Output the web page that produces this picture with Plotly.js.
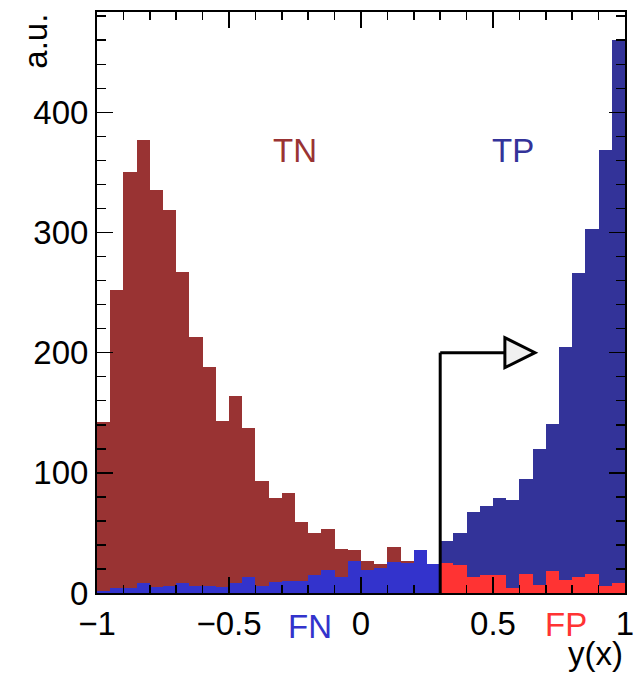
<!DOCTYPE html>
<html>
<head>
<meta charset="utf-8">
<script src="https://cdn.plot.ly/plotly-3.0.1.min.js"></script>
<style>html,body{margin:0;padding:0;background:#fff;}#chart{width:635px;height:674px;}</style>
</head>
<body>
<div id="chart"></div>
<script>
// Histogram binning
const binLow = -1.0;
const binWidth = 0.05;
const cutValue = 0.3;

// Classes below the cut (bins from -1.00 to 0.30)
const tnValues = [142, 252, 350, 377, 335, 319, 267, 213, 188, 143, 164, 137, 93, 79, 83, 59, 50, 53, 37, 36, 27, 24, 38, 27, 20, 15];
const fnValues = [2, 4, 4, 8, 5, 6, 8, 6, 6, 5, 8, 13, 6, 9, 10, 10, 15, 19, 13, 27, 19, 21, 26, 25, 36, 24];
// Classes above the cut (bins from 0.30 to 1.00)
const tpValues = [43, 50, 67, 72, 79, 77, 95, 120, 141, 205, 266, 303, 369, 460];
const fpValues = [25, 23, 13, 15, 15, 4, 16, 7, 18, 11, 13, 16, 6, 8];

const xTickVals = [-1, -0.5, 0, 0.5, 1];
const xTickText = ["\u22121", "\u22120.5", "0", "0.5", "1"];
const yTickVals = [0, 100, 200, 300, 400];
const yTickText = ["0", "100", "200", "300", "400"];

const labels = {tn: "TN", tp: "TP", fn: "FN", fp: "FP", xTitle: "y(x)", yTitle: "a.u."};

const colors = {tn: "#993333", fn: "#3333cc", tp: "#333399", fp: "#ff3333"};

function centers(startEdge, n) {
  const c = [];
  for (let i = 0; i < n; i++) c.push(startEdge + binWidth * (i + 0.5));
  return c;
}
const lowCenters = centers(binLow, tnValues.length);
const highCenters = centers(cutValue, tpValues.length);

function barTrace(x, y, color, name) {
  return {type: "bar", x: x, y: y, width: binWidth, name: name,
    marker: {color: color, line: {width: 0}}, hoverinfo: "x+y"};
}

const data = [
  barTrace(lowCenters, tnValues, colors.tn, labels.tn),
  barTrace(lowCenters, fnValues, colors.fn, labels.fn),
  barTrace(highCenters, tpValues, colors.tp, labels.tp),
  barTrace(highCenters, fpValues, colors.fp, labels.fp)
];

const font = "Liberation Sans, Arial, Helvetica, sans-serif";
const fs = 33;
const axisCommon = {
  showgrid: false, zeroline: false, showline: true, linecolor: "#000", linewidth: 2,
  mirror: "allticks", ticks: "inside", ticklen: 16, tickwidth: 1.5, tickcolor: "#000",
  tickfont: {family: font, size: fs, color: "#000"}
};

// Arrow marking the cut
const arrowY = 200;
const arrowEnd = 0.545;
const triTip = 0.659;
const triHalf = 12.5;

const layout = {
  width: 635, height: 674,
  margin: {l: 97, r: 10, t: 12, b: 81},
  paper_bgcolor: "#fff", plot_bgcolor: "#fff",
  barmode: "overlay", bargap: 0, showlegend: false,
  xaxis: Object.assign({}, axisCommon, {
    range: [-1, 1], tickmode: "array", tickvals: xTickVals, ticktext: xTickText,
    minor: {ticks: "inside", ticklen: 8, dtick: 0.1, tick0: 0, tickwidth: 1.5, tickcolor: "#000", showgrid: false}
  }),
  yaxis: Object.assign({}, axisCommon, {
    range: [0, 483.5], tickmode: "array", tickvals: yTickVals, ticktext: yTickText,
    minor: {ticks: "inside", ticklen: 9, dtick: 20, tick0: 0, tickwidth: 1.5, tickcolor: "#000", showgrid: false}
  }),
  shapes: [
    {type: "line", xref: "x", yref: "y", x0: cutValue, x1: cutValue, y0: 0, y1: arrowY, line: {color: "#000", width: 3}, layer: "above"},
    {type: "line", xref: "x", yref: "y", x0: cutValue, x1: arrowEnd, y0: arrowY, y1: arrowY, line: {color: "#000", width: 3}, layer: "above"},
    {type: "path", xref: "x", yref: "y",
      path: "M " + arrowEnd + " " + (arrowY - triHalf) + " L " + arrowEnd + " " + (arrowY + triHalf) + " L " + triTip + " " + arrowY + " Z",
      fillcolor: "#f0f0f0", line: {color: "#000", width: 3}, layer: "above"}
  ],
  annotations: [
    {text: labels.tn, xref: "x", yref: "y", x: -0.25, y: 368, showarrow: false, font: {family: font, size: fs, color: colors.tn}},
    {text: labels.tp, xref: "x", yref: "y", x: 0.576, y: 368, showarrow: false, font: {family: font, size: fs, color: colors.tp}},
    {text: labels.fn, xref: "x", yref: "paper", x: -0.193, y: -0.0585, yanchor: "middle", showarrow: false, font: {family: font, size: fs, color: colors.fn}},
    {text: labels.fp, xref: "x", yref: "paper", x: 0.777, y: -0.055, yanchor: "middle", showarrow: false, font: {family: font, size: fs, color: colors.fp}},
    {text: labels.xTitle, xref: "paper", yref: "paper", x: 1.0, y: -0.104, xanchor: "right", yanchor: "middle", showarrow: false, font: {family: font, size: fs, color: "#000"}},
    {text: labels.yTitle, xref: "paper", yref: "paper", x: -0.117, y: 1.0, xanchor: "center", yanchor: "top", textangle: -90, showarrow: false, font: {family: font, size: fs, color: "#000"}}
  ]
};

Plotly.newPlot("chart", data, layout, {staticPlot: true, displayModeBar: false});
</script>
</body>
</html>
